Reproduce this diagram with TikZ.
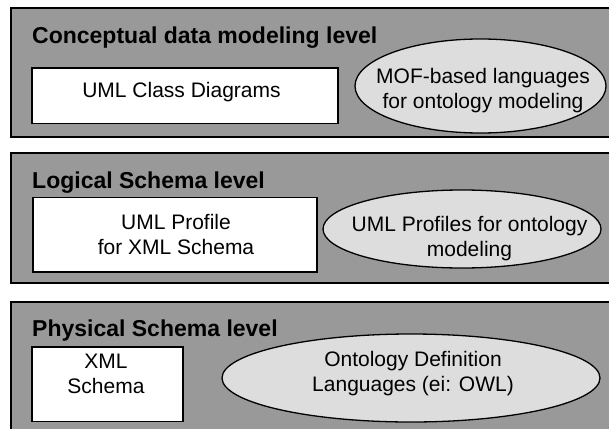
\documentclass[tikz,border=0pt]{standalone}
\usepackage{fontspec}
\setmainfont{Liberation Sans}
\usetikzlibrary{shapes.geometric}
\definecolor{levelgray}{RGB}{153,153,153}
\definecolor{ovalgray}{RGB}{221,221,221}
\newcommand{\bodyfont}{\fontsize{21}{25}\selectfont}
\begin{document}
\begin{tikzpicture}[x=1pt,y=-1pt,
  panel/.style={draw=black, line width=1.7pt, fill=levelgray},
  leveltitle/.style={anchor=base west, inner sep=0pt, font=\fontsize{23}{27}\selectfont\bfseries},
  box/.style={rectangle, draw=black, line width=1.4pt, fill=white, inner sep=0pt},
  oval/.style={ellipse, draw=black, line width=1.3pt, fill=ovalgray, inner sep=0pt},
  label/.style={align=center, inner sep=0pt, font=\bodyfont}]
\useasboundingbox (0,0) rectangle (609,428);
\clip (0,0) rectangle (609,428);
\fill[white] (0,0) rectangle (609,428);

% level panels (they run past the right and bottom edges)
\draw[panel] (10.7,8) rectangle (615,137);
\draw[panel] (10.7,153) rectangle (615,283);
\draw[panel] (10.7,302) rectangle (615,440);

% conceptual level
\node[leveltitle] (t1) at (32,44) {Conceptual data modeling level};
\node[box, minimum width=306pt, minimum height=55.5pt] (b1) at (185,95.8) {};
\node[label] (b1t) at (181.5,92.5) {UML Class Diagrams};
\node[oval, minimum width=251pt, minimum height=94pt] (e1) at (480.5,86) {};
\node[label] (e1t) at (483,91) {MOF-based languages\\for ontology modeling};

% logical level
\node[leveltitle] (t2) at (32,188) {Logical Schema level};
\node[box, minimum width=284pt, minimum height=74.5pt] (b2) at (175,234.7) {};
\node[label] (b2t) at (176,234) {UML Profile\\for XML Schema};
\node[oval, minimum width=278pt, minimum height=78pt] (e2) at (462,229) {};
\node[label] (e2t) at (469.5,239) {UML Profiles for ontology\\modeling};

% physical level
\node[leveltitle] (t3) at (32,336) {Physical Schema level};
\node[box, minimum width=151pt, minimum height=74.5pt] (b3) at (107.5,384.2) {};
\node[label] (b3t) at (106,373.5) {XML\\Schema};
\node[oval, minimum width=378pt, minimum height=88pt] (e3) at (411,378) {};
\node[label] (e3t) at (413,373.5) {Ontology Definition\\Languages (ei: OWL)};
\end{tikzpicture}
\end{document}
